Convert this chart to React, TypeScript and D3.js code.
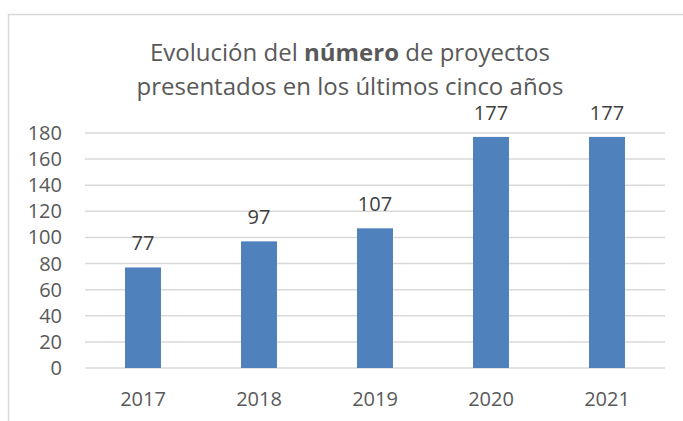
import { useEffect, useRef } from "react";
import * as d3 from "d3";

// datos del gráfico
const years = ["2017", "2018", "2019", "2020", "2021"];
const projects = [77, 97, 107, 177, 177];
const yTicks = [0, 20, 40, 60, 80, 100, 120, 140, 160, 180];

const App: React.FC = () => {
    const svgRef = useRef<SVGSVGElement>(null);

    useEffect(() => {
        const width = 683;
        const height = 421;
        const textColor = "#595959";
        const gridColor = "#d9d9d9";
        const font = "'Open Sans', sans-serif";

        const svg = d3.select(svgRef.current);
        svg.selectAll("*").remove();

        // marco del gráfico (solo se ven borde superior e izquierdo)
        svg.append("rect")
            .attr("x", 8.5)
            .attr("y", 14.5)
            .attr("width", width + 20)
            .attr("height", height + 20)
            .attr("fill", "#fff")
            .attr("stroke", gridColor)
            .attr("stroke-width", 1.5);

        // Escalas
        const x = d3.scaleBand()
            .domain(years)
            .range([85, 665])
            .paddingInner(0.69)
            .paddingOuter(0.345);

        const y = d3.scaleLinear()
            .domain([0, 180])
            .range([368, 133]);

        // Título
        const title = svg.append("text")
            .attr("text-anchor", "middle")
            .attr("font-family", font)
            .attr("font-size", 24)
            .attr("fill", textColor);
        const line1 = title.append("tspan").attr("x", 350).attr("y", 61);
        line1.append("tspan").text("Evolución del ");
        line1.append("tspan").attr("font-weight", "bold").text("número");
        line1.append("tspan").text(" de proyectos");
        title.append("tspan").attr("x", 350).attr("y", 95)
            .text("presentados en los últimos cinco años");

        // Líneas de cuadrícula
        svg.append("g")
            .selectAll("line")
            .data(yTicks)
            .enter()
            .append("line")
            .attr("x1", 85)
            .attr("x2", 665)
            .attr("y1", d => y(d))
            .attr("y2", d => y(d))
            .attr("stroke", gridColor)
            .attr("stroke-width", 1.5);

        // Etiquetas del eje Y
        svg.append("g")
            .selectAll("text")
            .data(yTicks)
            .enter()
            .append("text")
            .attr("x", 62)
            .attr("y", d => y(d) + 7)
            .attr("text-anchor", "end")
            .attr("font-family", font)
            .attr("font-size", 20)
            .attr("fill", textColor)
            .text(d => d);

        // Barras
        svg.append("g")
            .selectAll("rect")
            .data(projects)
            .enter()
            .append("rect")
            .attr("x", (d, i) => x(years[i])!)
            .attr("y", d => y(d))
            .attr("width", x.bandwidth())
            .attr("height", d => y(0) - y(d))
            .attr("fill", "#4f81bd");

        // Etiquetas de valor
        svg.append("g")
            .selectAll("text")
            .data(projects)
            .enter()
            .append("text")
            .attr("x", (d, i) => x(years[i])! + x.bandwidth() / 2)
            .attr("y", d => y(d) - 17)
            .attr("text-anchor", "middle")
            .attr("font-family", font)
            .attr("font-size", 20)
            .attr("fill", "#404040")
            .text(d => d);

        // Etiquetas del eje X
        svg.append("g")
            .selectAll("text")
            .data(years)
            .enter()
            .append("text")
            .attr("x", d => x(d)! + x.bandwidth() / 2)
            .attr("y", 406)
            .attr("text-anchor", "middle")
            .attr("font-family", font)
            .attr("font-size", 20)
            .attr("fill", textColor)
            .text(d => d);
    }, []);

    return (
        <div style={{ position: "absolute", left: 0, top: 0 }}>
            <svg ref={svgRef} width={683} height={421} style={{ display: "block", background: "#fff" }}></svg>
        </div>
    );
};

export default App;
